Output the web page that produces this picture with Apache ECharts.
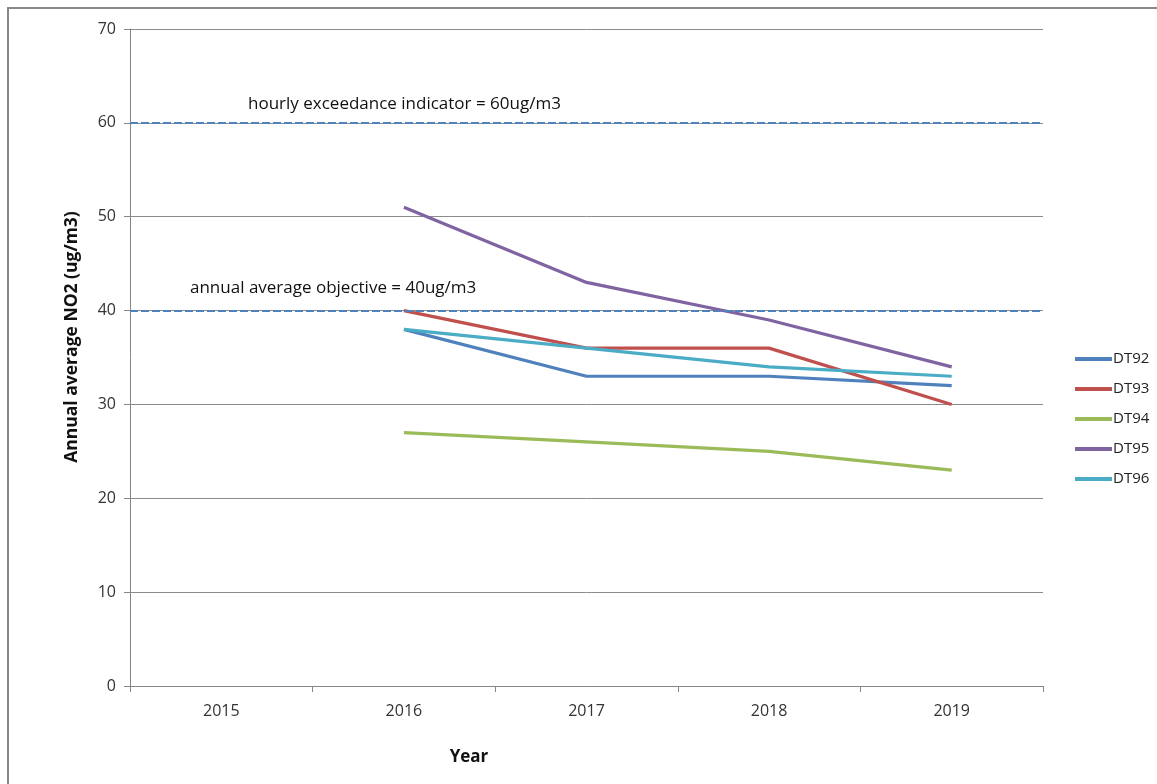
<!DOCTYPE html>
<html>
<head>
<meta charset="utf-8">
<script src="https://cdn.jsdelivr.net/npm/echarts@6/dist/echarts.min.js"></script>
<style>
html,body{margin:0;padding:0;background:#fff;}
#chart{width:1157px;height:784px;}
</style>
</head>
<body>
<div id="chart"></div>
<script>
const years = ['2015', '2016', '2017', '2018', '2019'];
const seriesNames = ['DT92', 'DT93', 'DT94', 'DT95', 'DT96'];
const DT92 = [null, 38, 33, 33, 32];
const DT93 = [null, 40, 36, 36, 30];
const DT94 = [null, 27, 26, 25, 23];
const DT95 = [null, 51, 43, 39, 34];
const DT96 = [null, 38, 36, 34, 33];
const seriesValues = [DT92, DT93, DT94, DT95, DT96];
const colors = ['#4F81BD', '#C0504D', '#9BBB59', '#8064A2', '#4BACC6'];
const hourlyLimit = 60;
const annualObjective = 40;
const hourlyText = 'hourly exceedance indicator = 60ug/m3';
const annualText = 'annual average objective = 40ug/m3';

const font = "'Open Sans', 'Liberation Sans', sans-serif";
const chart = echarts.init(document.getElementById('chart'));

const series = seriesNames.map((n, i) => ({
  name: n,
  type: 'line',
  data: seriesValues[i],
  symbol: 'none',
  lineStyle: { width: 3.2, color: colors[i] },
  itemStyle: { color: colors[i] },
  z: 3
}));

series.push({
  name: '_limits',
  type: 'line',
  data: [],
  silent: true,
  markLine: {
    silent: true,
    symbol: 'none',
    lineStyle: { type: [8, 3], color: '#4F81BD', width: 2.2 },
    label: {
      show: true,
      position: 'insideStartTop',
      fontFamily: font,
      fontSize: 17,
      color: '#111'
    },
    data: [
      { yAxis: hourlyLimit, label: { formatter: hourlyText, distance: [118, 10] } },
      { yAxis: annualObjective, label: { formatter: annualText, distance: [60, 14] } }
    ]
  }
});

chart.setOption({
  animation: false,
  backgroundColor: '#fff',
  color: colors,
  grid: { left: 130, right: 114, top: 29, bottom: 98, containLabel: false },
  legend: {
    data: seriesNames.map(n => ({ name: n, icon: 'rect' })),
    orient: 'vertical',
    left: 1070,
    top: 345,
    itemWidth: 37,
    itemHeight: 4,
    itemGap: 12,
    textStyle: { fontFamily: font, fontSize: 15, color: '#222', padding: [0, 0, 0, -4], lineHeight: 18 }
  },
  xAxis: {
    type: 'category',
    data: years,
    boundaryGap: true,
    axisLine: { lineStyle: { color: '#868686', width: 1 } },
    axisTick: { show: true, length: 6, lineStyle: { color: '#868686' } },
    axisLabel: { fontFamily: font, fontSize: 16, color: '#333', margin: 17 },
    splitLine: { show: false }
  },
  yAxis: {
    type: 'value',
    min: 0,
    max: 70,
    interval: 10,
    axisLine: { show: true, lineStyle: { color: '#868686', width: 1 } },
    axisTick: { show: true, length: 6, lineStyle: { color: '#868686' } },
    axisLabel: { fontFamily: font, fontSize: 16, color: '#333', margin: 14 },
    splitLine: { show: true, lineStyle: { color: '#8c8c8c', width: 1 } }
  },
  graphic: [
    {
      type: 'rect',
      shape: { x: 8, y: 8, width: 1200, height: 900 },
      style: { fill: null, stroke: '#888', lineWidth: 2 },
      silent: true,
      z: -1
    },
    {
      type: 'text',
      x: 72, y: 337,
      rotation: Math.PI / 2,
      style: {
        text: 'Annual average NO2 (ug/m3)',
        fontFamily: font, fontSize: 17.5, fontWeight: 'bold', fill: '#111',
        align: 'center', verticalAlign: 'middle'
      }
    },
    {
      type: 'text',
      x: 469, y: 757,
      style: {
        text: 'Year',
        fontFamily: font, fontSize: 17, fontWeight: 'bold', fill: '#111',
        align: 'center', verticalAlign: 'middle'
      }
    }
  ],
  series: series
});
</script>
</body>
</html>
